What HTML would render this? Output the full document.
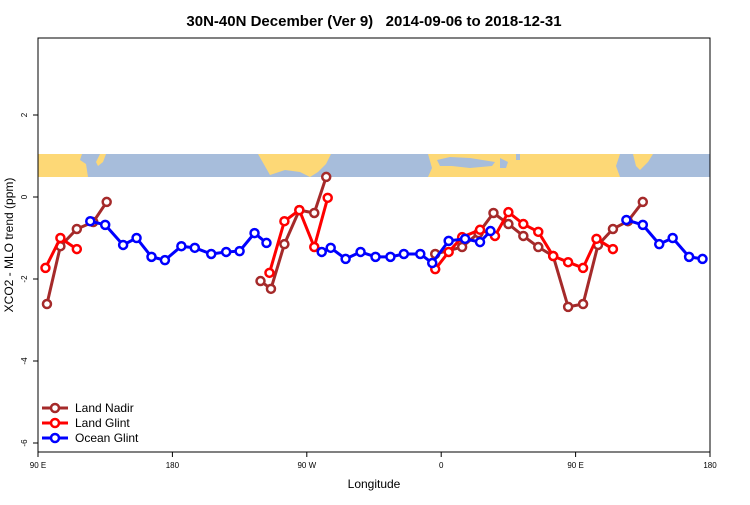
<!DOCTYPE html>
<html><head><meta charset="utf-8"><style>
body{margin:0;background:#fff;}
svg{font-family:"Liberation Sans",sans-serif;}
</style></head><body>
<svg id="chart" width="750" height="500" xmlns="http://www.w3.org/2000/svg">
<text x="374" y="26" text-anchor="middle" font-size="15" font-weight="bold" style="white-space:pre">30N-40N December (Ver 9)   2014-09-06 to 2018-12-31</text>
<g>
<rect x="38" y="154" width="672" height="23" fill="#a7bddb"/>
<polygon points="38,154 82,154 80,160 86,164 88,177 38,177" fill="#fdd876"/>
<polygon points="100,154 106,154 103,162 98,166 96,162" fill="#fdd876"/>
<polygon points="258,154 331,154 326,164 318,172 310,177 300,172 285,170 270,175 266,168" fill="#fdd876"/>
<polygon points="428,154 620,154 616,166 620,177 428,177 432,168" fill="#fdd876"/>
<polygon points="437,160 450,157 470,158 495,162 492,166 470,168 452,166 440,166" fill="#a7bddb"/>
<polygon points="500,158 508,162 506,168 500,168" fill="#a7bddb"/>
<polygon points="516,154 520,154 520,160 516,160" fill="#a7bddb"/>
<polygon points="633,154 653,154 648,162 640,170 636,166" fill="#fdd876"/>
</g>
<g id="series"></g>
<rect x="38" y="38" width="672" height="414" fill="none" stroke="#000" stroke-width="1"/>
<g id="axes"></g>
<text x="374" y="488" text-anchor="middle" font-size="12">Longitude</text>
<text transform="translate(13,245) rotate(-90)" text-anchor="middle" font-size="12">XCO2 - MLO trend (ppm)</text>
<g id="legend"></g>
</svg>
<script>
const xTickLons=[90,180,270,360,450,540];
const xTickLabels=["90 E","180","90 W","0","90 E","180"];
const yTicks=[2,0,-2,-4,-6];
const nadirLon=[96,105,116,127,136,null,239,246,255,265,275,283,null,356,374,385,395,405,415,425,435,445,455,465,475,485,495];
const nadirVal=[-2.61,-1.2,-0.78,-0.61,-0.12,null,-2.05,-2.24,-1.15,-0.32,-0.39,0.49,null,-1.39,-1.22,-0.88,-0.39,-0.66,-0.95,-1.22,-1.44,-2.68,-2.61,-1.17,-0.78,-0.59,-0.12];
const glintLon=[95,105,116,null,245,255,265,275,284,null,356,365,374,386,396,405,415,425,435,445,455,464,475];
const glintVal=[-1.73,-1.0,-1.27,null,-1.85,-0.59,-0.32,-1.22,-0.02,null,-1.76,-1.34,-0.98,-0.8,-0.95,-0.37,-0.66,-0.85,-1.44,-1.59,-1.73,-1.02,-1.27];
const oceanLon=[125,135,147,156,166,175,186,195,206,216,225,235,243,null,280,286,296,306,316,326,335,346,354,365,376,386,393,null,484,495,506,515,526,535];
const oceanVal=[-0.59,-0.68,-1.17,-1.0,-1.46,-1.54,-1.2,-1.24,-1.39,-1.34,-1.32,-0.88,-1.12,null,-1.34,-1.24,-1.51,-1.34,-1.46,-1.46,-1.39,-1.39,-1.61,-1.07,-1.02,-1.1,-0.83,null,-0.56,-0.68,-1.15,-1.0,-1.46,-1.51];
const seriesNames=["Land Nadir","Land Glint","Ocean Glint"];
const X=l=>38+(l-90)*672/450;
const Y=v=>197-41*v;
const NS="http://www.w3.org/2000/svg";
function mk(tag,at,parent){const e=document.createElementNS(NS,tag);for(const k in at)e.setAttribute(k,at[k]);parent.appendChild(e);return e;}
const axes=document.getElementById('axes');
xTickLons.forEach((l,i)=>{
 const t=mk('line',{x1:X(l),x2:X(l),y1:452,y2:457,stroke:'#000'},axes);
 
 
 const tx=mk('text',{x:X(l),y:468,'text-anchor':'middle','font-size':8},axes);
 tx.textContent=xTickLabels[i];
 
 
});
yTicks.forEach(v=>{
 const t=mk('line',{x1:33,x2:38,y1:Y(v),y2:Y(v),stroke:'#000'},axes);
 
 
 const tx=mk('text',{transform:`translate(27,${Y(v)}) rotate(-90)`,'text-anchor':'middle','font-size':8},axes);
 tx.textContent=String(v);
 
 
});
const sl=document.getElementById('series');
function draw(lons,vals,color,name){
 const g=mk('g',{},sl);
 
 
 let seg=[];
 const flush=()=>{if(seg.length>1){const p=mk('polyline',{points:seg.join(' '),fill:'none',stroke:color,'stroke-width':3,'stroke-linejoin':'round'},g);
 
 }seg=[];};
 lons.forEach((l,i)=>{if(l===null||vals[i]===null){flush();return;}seg.push(X(l)+','+Y(vals[i]));});
 flush();
 lons.forEach((l,i)=>{if(l===null||vals[i]===null)return;
  const c=mk('circle',{cx:X(l),cy:Y(vals[i]),r:4,fill:'#fff',stroke:color,'stroke-width':2.5},g);
  
  });
}
draw(nadirLon,nadirVal,'#a52a2a','land-nadir-series');
draw(glintLon,glintVal,'#ff0000','land-glint-series');
draw(oceanLon,oceanVal,'#0000ff','ocean-glint-series');
const lg=document.getElementById('legend');
const cols=['#a52a2a','#ff0000','#0000ff'];
seriesNames.forEach((n,i)=>{
 const y=408+i*15;
 const g=mk('g',{},lg);
 
 
 mk('line',{x1:42,x2:68,y1:y,y2:y,stroke:cols[i],'stroke-width':3},g);
 mk('circle',{cx:55,cy:y,r:4,fill:'#fff',stroke:cols[i],'stroke-width':2.5},g);
 const t=mk('text',{x:75,y:y+4,'font-size':12},g);
 t.textContent=n;
});
</script>
</body></html>
